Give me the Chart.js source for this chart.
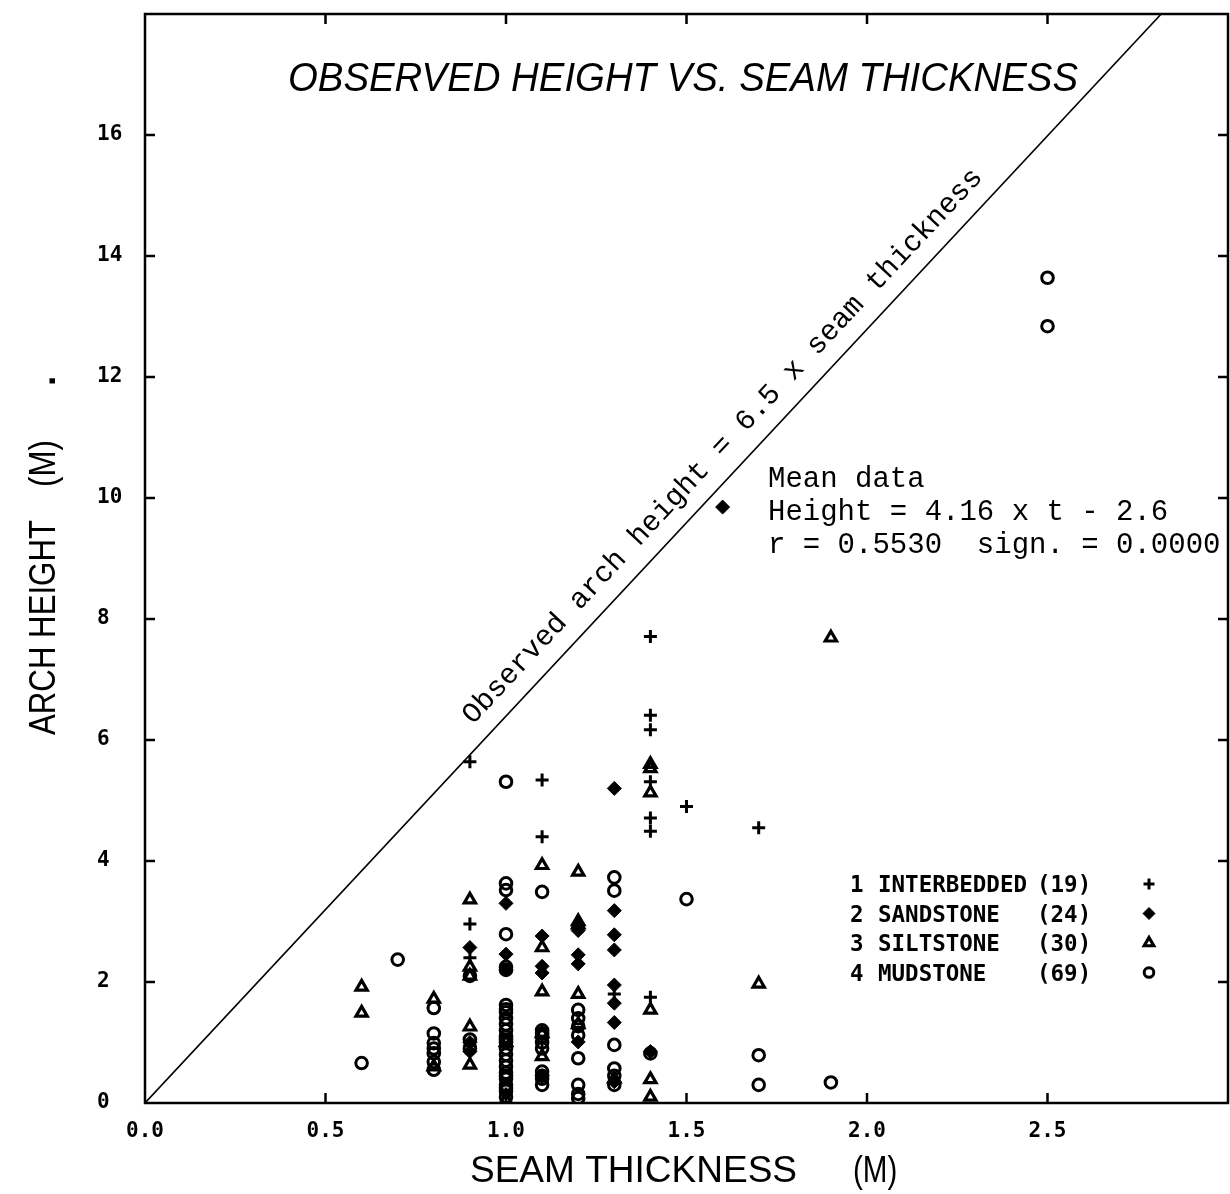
<!DOCTYPE html>
<html>
<head>
<meta charset="utf-8">
<script src="https://cdn.jsdelivr.net/npm/chart.js@4.4.0/dist/chart.umd.min.js"></script>
<style>
  html, body { margin: 0; padding: 0; background: #fff; overflow: hidden; }
  #wrap { width: 1230px; height: 1194px; position: relative; }
  #wrap canvas { display: block; }
</style>
</head>
<body>
<div id="wrap"><canvas id="chart"></canvas></div>
<script>
// seam thickness (m) vs observed arch height (m)
const interbedded = [
  [0.9, 5.64], [0.9, 2.96], [0.9, 2.4], [0.9, 0.95],
  [1.0, 0.15],
  [1.1, 5.34], [1.1, 4.4], [1.1, 1.0],
  [1.2, 2.9],
  [1.3, 1.8],
  [1.4, 7.71], [1.4, 6.41], [1.4, 6.17], [1.4, 5.31], [1.4, 4.71], [1.4, 4.49], [1.4, 1.75],
  [1.5, 4.9], [1.7, 4.55]
];
const sandstone = [
  [0.9, 2.57], [0.9, 1.0], [0.9, 0.85],
  [1.0, 3.3], [1.0, 2.46], [1.0, 2.2],
  [1.1, 2.76], [1.1, 2.26], [1.1, 2.15], [1.1, 0.45],
  [1.2, 2.85], [1.2, 2.45], [1.2, 2.3], [1.2, 1.01],
  [1.3, 5.2], [1.3, 3.18], [1.3, 2.78], [1.3, 2.53], [1.3, 1.95], [1.3, 1.65], [1.3, 1.33], [1.3, 0.35],
  [1.4, 0.85], [1.6, 9.85]
];
const siltstone = [
  [0.6, 1.92], [0.6, 1.49],
  [0.8, 1.72], [0.8, 0.6],
  [0.9, 3.36], [0.9, 2.25], [0.9, 2.1], [0.9, 1.26], [0.9, 0.63],
  [1.0, 1.0], [1.0, 0.05],
  [1.1, 3.93], [1.1, 2.57], [1.1, 1.84], [1.1, 1.15], [1.1, 0.77],
  [1.2, 3.82], [1.2, 3.0], [1.2, 2.95], [1.2, 1.8], [1.2, 1.3],
  [1.3, 0.4],
  [1.4, 5.6], [1.4, 5.53], [1.4, 5.13], [1.4, 1.54], [1.4, 0.39], [1.4, 0.1],
  [1.7, 1.97], [1.9, 7.69]
];
const mudstone = [
  [0.6, 0.66], [0.7, 2.37],
  [0.8, 1.57], [0.8, 1.15], [0.8, 0.99], [0.8, 0.9], [0.8, 0.82], [0.8, 0.68], [0.8, 0.55],
  [0.9, 2.1], [0.9, 1.05], [0.9, 0.9],
  [1.0, 5.31], [1.0, 3.63], [1.0, 3.52], [1.0, 2.79], [1.0, 2.25], [1.0, 2.2], [1.0, 1.62], [1.0, 1.55],
  [1.0, 1.5], [1.0, 1.4], [1.0, 1.3], [1.0, 1.2], [1.0, 1.1], [1.0, 1.05], [1.0, 1.0], [1.0, 0.9],
  [1.0, 0.8], [1.0, 0.7], [1.0, 0.6], [1.0, 0.5], [1.0, 0.45], [1.0, 0.4], [1.0, 0.3], [1.0, 0.25],
  [1.0, 0.2], [1.0, 0.1],
  [1.1, 3.49], [1.1, 1.2], [1.1, 1.15], [1.1, 1.1], [1.1, 1.0], [1.1, 0.9], [1.1, 0.52], [1.1, 0.45],
  [1.1, 0.4], [1.1, 0.3],
  [1.2, 1.54], [1.2, 1.4], [1.2, 1.27], [1.2, 1.12], [1.2, 0.74], [1.2, 0.3], [1.2, 0.15], [1.2, 0.08],
  [1.3, 3.73], [1.3, 3.51], [1.3, 0.96], [1.3, 0.57], [1.3, 0.45], [1.3, 0.3],
  [1.4, 0.82], [1.5, 3.37],
  [1.7, 0.79], [1.7, 0.3], [1.9, 0.34],
  [2.5, 13.64], [2.5, 12.84]
];

// the "6.5 x seam thickness" line as drawn
const lineX = [0, 2.815];
const lineY = [0, 18];

const xTicks = [0, 0.5, 1.0, 1.5, 2.0, 2.5];
const yTicks = [0, 2, 4, 6, 8, 10, 12, 14, 16];

const legendRows = [
  { n: '1', name: 'INTERBEDDED', count: '(19)' },
  { n: '2', name: 'SANDSTONE', count: '(24)' },
  { n: '3', name: 'SILTSTONE', count: '(30)' },
  { n: '4', name: 'MUDSTONE', count: '(69)' }
];

const styles = [
  { pointStyle: 'cross', radius: 6.5, borderWidth: 3, fill: '#000' },
  { pointStyle: 'rectRot', radius: 7, borderWidth: 1, fill: '#000' },
  { pointStyle: 'triangle', radius: 6.5, borderWidth: 3.2, fill: 'rgba(255,255,255,0)' },
  { pointStyle: 'circle', radius: 5.8, borderWidth: 3, fill: 'rgba(255,255,255,0)' }
];

const toPts = arr => arr.map(p => ({ x: p[0], y: p[1] }));

function drawScaled(ctx, str, x, y, font, sx) {
  ctx.save();
  ctx.font = font;
  ctx.translate(x, y);
  ctx.scale(sx, 1);
  ctx.textAlign = 'left';
  ctx.textBaseline = 'alphabetic';
  ctx.fillText(str, 0, 0);
  ctx.restore();
}
function fitScale(ctx, str, font, width) {
  ctx.font = font;
  return width / ctx.measureText(str).width;
}

// 枠・内向きの目盛り・注記
const decor = {
  id: 'decor',
  afterDraw(chart) {
    const { ctx, chartArea: a, scales: { x, y } } = chart;
    ctx.save();
    ctx.strokeStyle = '#000';
    ctx.fillStyle = '#000';
    ctx.lineWidth = 2.5;
    ctx.strokeRect(a.left, a.top, a.right - a.left, a.bottom - a.top);

    ctx.beginPath();
    yTicks.slice(1).forEach(v => {
      const py = y.getPixelForValue(v);
      ctx.moveTo(a.left, py); ctx.lineTo(a.left + 10, py);
      ctx.moveTo(a.right, py); ctx.lineTo(a.right - 10, py);
    });
    xTicks.slice(1).forEach(v => {
      const px = x.getPixelForValue(v);
      ctx.moveTo(px, a.bottom); ctx.lineTo(px, a.bottom - 10);
      ctx.moveTo(px, a.top); ctx.lineTo(px, a.top + 10);
    });
    ctx.stroke();

    // title
    const tf = 'italic 40px "Liberation Sans"';
    drawScaled(ctx, 'OBSERVED HEIGHT VS. SEAM THICKNESS', 288, 91, tf,
      fitScale(ctx, 'OBSERVED HEIGHT VS. SEAM THICKNESS', tf, 790));

    // axis titles
    const af = '37px "Liberation Sans"';
    const sxX = fitScale(ctx, 'SEAM THICKNESS', af, 327);
    drawScaled(ctx, 'SEAM THICKNESS', 470, 1182, af, sxX);
    drawScaled(ctx, '(M)', 853, 1182, af, sxX * 0.8);

    ctx.save();
    ctx.translate(55, 0);
    ctx.rotate(-Math.PI / 2);
    const sxY = fitScale(ctx, 'ARCH HEIGHT', af, 215);
    drawScaled(ctx, 'ARCH HEIGHT', -735, 0, af, sxY);
    drawScaled(ctx, '(M)', -487, 0, af, sxY);
    drawScaled(ctx, '.', -386, 0, 'bold 37px "Liberation Sans"', 1);
    ctx.restore();

    // text along the line
    const p0 = { x: x.getPixelForValue(lineX[0]), y: y.getPixelForValue(lineY[0]) };
    const p1 = { x: x.getPixelForValue(lineX[1]), y: y.getPixelForValue(lineY[1]) };
    const len = Math.hypot(p1.x - p0.x, p1.y - p0.y);
    const d = { x: (p1.x - p0.x) / len, y: (p1.y - p0.y) / len };
    const nrm = { x: d.y, y: -d.x };
    const along = 500, off = 18;
    ctx.save();
    ctx.translate(p0.x + d.x * along + nrm.x * off, p0.y + d.y * along + nrm.y * off);
    ctx.rotate(Math.atan2(d.y, d.x));
    ctx.font = '29px "Liberation Mono"';
    ctx.textAlign = 'left';
    ctx.fillText('Observed arch height = 6.5 x seam thickness', 0, 0);
    ctx.restore();

    // regression note
    ctx.font = '29px "Liberation Mono"';
    ctx.textAlign = 'left';
    ctx.fillText('Mean data', 768, 487);
    ctx.fillText('Height = 4.16 x t - 2.6', 768, 520);
    ctx.fillText('r = 0.5530  sign. = 0.0000', 768, 553);

    // legend
    const lf = 'bold 22.5px "DejaVu Sans Mono"';
    legendRows.forEach((r, i) => {
      const ly = 892 + i * 29.5;
      drawScaled(ctx, r.n, 850, ly, lf, 1);
      drawScaled(ctx, r.name, 878, ly, lf, 1);
      drawScaled(ctx, r.count, 1037, ly, lf, 1);
      const s = styles[i];
      ctx.lineWidth = s.borderWidth;
      ctx.fillStyle = s.fill;
      Chart.helpers.drawPoint(ctx, { pointStyle: s.pointStyle, radius: s.radius - 1, rotation: 0, borderWidth: s.borderWidth }, 1149, ly - 8);
      ctx.fillStyle = '#000';
    });
    ctx.restore();
  }
};

const seriesData = [interbedded, sandstone, siltstone, mudstone];
const datasets = [{
  type: 'line',
  data: lineX.map((v, i) => ({ x: v, y: lineY[i] })),
  borderColor: '#000',
  borderWidth: 1.6,
  pointRadius: 0,
  fill: false
}];
seriesData.forEach((arr, i) => {
  const s = styles[i];
  datasets.push({
    label: legendRows[i].name,
    data: toPts(arr),
    pointStyle: s.pointStyle,
    pointRadius: s.radius,
    borderWidth: s.borderWidth,
    borderColor: '#000',
    backgroundColor: s.fill
  });
});

const tickFont = { family: 'DejaVu Sans Mono', size: 21, weight: 'bold' };

new Chart(document.getElementById('chart'), {
  type: 'scatter',
  data: { datasets },
  options: {
    responsive: true,
    maintainAspectRatio: false,
    animation: false,
    layout: { autoPadding: false, padding: { left: 97, top: 14, right: 2, bottom: 0 } },
    plugins: { legend: { display: false }, tooltip: { enabled: false } },
    scales: {
      x: {
        type: 'linear', min: 0, max: 3,
        afterFit: s => { s.height = 91; s.paddingLeft = 0; s.paddingRight = 0; },
        grid: { display: false, drawTicks: false },
        border: { display: false },
        afterBuildTicks: s => { s.ticks = xTicks.map(v => ({ value: v })); },
        ticks: {
          padding: 16, color: '#000', font: tickFont, maxRotation: 0, autoSkip: false,
          callback: v => Number(v).toFixed(1)
        }
      },
      y: {
        type: 'linear', min: 0, max: 18,
        afterFit: s => { s.width = 48; s.paddingTop = 0; s.paddingBottom = 0; },
        grid: { display: false, drawTicks: false },
        border: { display: false },
        afterBuildTicks: s => { s.ticks = yTicks.map(v => ({ value: v })); },
        ticks: {
          crossAlign: 'far', color: '#000', font: tickFont, autoSkip: false,
          callback: v => String(v)
        }
      }
    }
  },
  plugins: [decor]
});
</script>
</body>
</html>
